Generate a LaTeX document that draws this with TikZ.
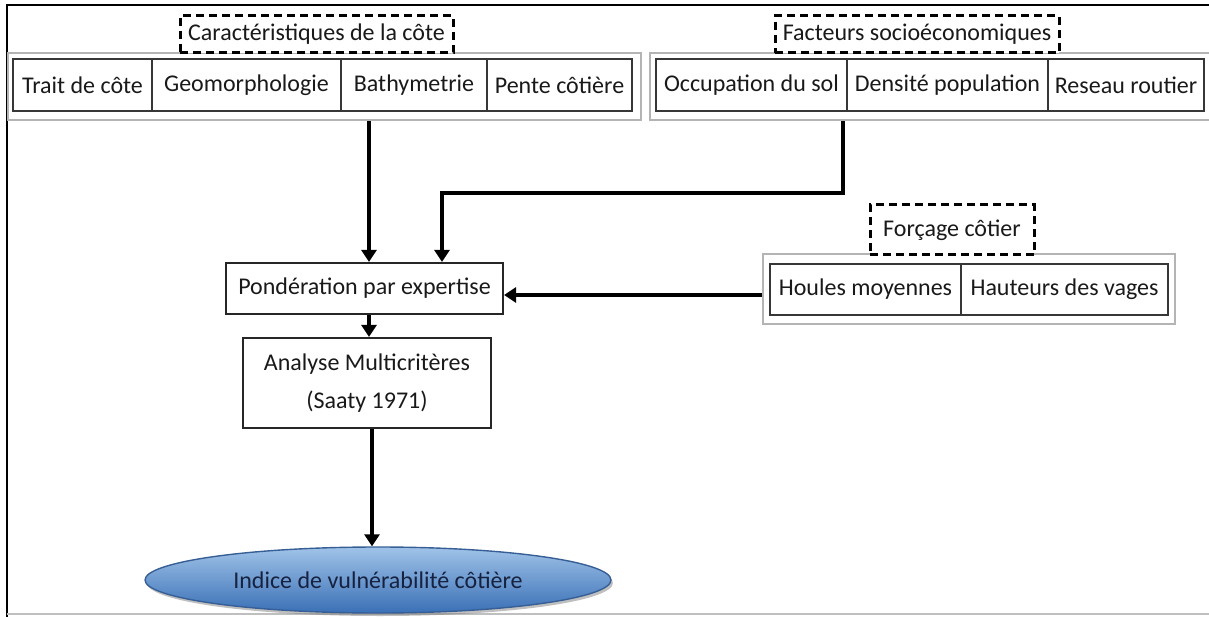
\documentclass[tikz,border=0pt]{standalone}
\usepackage{fontspec}
\setmainfont{Carlito}
\usetikzlibrary{arrows.meta,shapes.geometric,calc,shadows}

\definecolor{cellline}{RGB}{55,55,55}
\definecolor{frameline}{RGB}{180,180,180}
\definecolor{ovaltop}{RGB}{160,195,232}
\definecolor{ovalbot}{RGB}{58,112,182}
\definecolor{ovalline}{RGB}{55,95,150}
\definecolor{ovaltext}{RGB}{22,34,64}
\definecolor{inkgray}{RGB}{25,25,25}

\tikzset{
  txt/.style={font=\fontsize{24}{28}\selectfont, text=inkgray},
  cell/.style={txt, draw=cellline, line width=1.5, inner sep=0, align=center},
  group/.style={draw=frameline, line width=1.8, inner sep=0},
  title/.style={txt, draw=black, dashed, dash pattern=on 8pt off 5pt, line width=3, fill=white, inner sep=0},
  stepbox/.style={txt, draw=black!85, line width=2.2, inner sep=0, align=center},
  conn/.style={line width=4, black},
  arr/.style={conn, -{Triangle[width=15pt,length=12pt]}},
}

\begin{document}
\begin{tikzpicture}[x=1pt,y=-1pt]
\useasboundingbox (0,0) rectangle (1209,617);
\clip (0,0) rectangle (1209,617);

% page frame
\draw[line width=2.6] (7,617) -- (7,5) -- (1210,5);
\draw[line width=2, black!25] (7,614) -- (1210,614);

% coast characteristics
\node[group, minimum width=633, minimum height=67] (cote) at (324.5,86.5) {};
\node[cell, minimum width=139, minimum height=52] (trait) at (82.5,85) {Trait de côte};
\node[cell, minimum width=189, minimum height=52] (geo) at (246.5,85) {Geomorphologie};
\node[cell, minimum width=146, minimum height=52] (bathy) at (414,85) {Bathymetrie};
\node[cell, minimum width=145, minimum height=52] (pente) at (559.5,85) {Pente côtière};
\node[title, minimum width=273, minimum height=37] (tcote) at (316.5,34.5) {Caractéristiques de la côte};

% socio-economic factors
\node[group, minimum width=565, minimum height=67] (socio) at (932.5,86.5) {};
\node[cell, minimum width=191, minimum height=52] (occ) at (751.5,85) {Occupation du sol};
\node[cell, minimum width=201, minimum height=52] (dens) at (947.5,85) {Densité population};
\node[cell, minimum width=156, minimum height=52] (route) at (1126,85) {Reseau routier};
\node[title, minimum width=284, minimum height=37] (tsocio) at (917,34.5) {Facteurs socioéconomiques};

% coastal forcing
\node[group, minimum width=412, minimum height=70] (forc) at (969,289) {};
\node[cell, minimum width=191, minimum height=51] (houle) at (865.5,289.5) {Houles moyennes};
\node[cell, minimum width=207, minimum height=51] (haut) at (1064.5,289.5) {Hauteurs des vages};
\node[title, minimum width=164, minimum height=50] (tforc) at (952,230) {Forçage côtier};

% processing chain
\node[stepbox, minimum width=277, minimum height=51] (pond) at (364.5,288.5) {Pondération par expertise};
\node[stepbox, minimum width=248, minimum height=90, font=\fontsize{24}{38}\selectfont] (amc) at (367,383) {Analyse Multicritères\\(Saaty 1971)};
\node[ellipse, minimum width=466, minimum height=66, inner sep=0, line width=1.4,
      draw=ovalline, top color=ovaltop, bottom color=ovalbot,
      drop shadow={opacity=0.5, shadow xshift=2pt, shadow yshift=-3pt},
      txt, text=ovaltext] (ivc) at (378,580) {Indice de vulnérabilité côtière};

% connector columns
\coordinate (xa) at (369,0);
\coordinate (xb) at (442,0);
\coordinate (xc) at (843,0);
\coordinate (xd) at (372,0);
\coordinate (yb) at (0,193);
\coordinate (yh) at (0,295);

% connectors
\draw[arr] (cote.south -| xa) -- (pond.north -| xa);
\draw[arr] (socio.south -| xc) -- (xc |- yb) -- (xb |- yb) -- (pond.north -| xb);
\draw[arr] (forc.west |- yh) -- (pond.east |- yh);
\draw[arr] (pond.south -| xa) -- (amc.north -| xa);
\draw[arr] (amc.south -| xd) -- (ivc.north -| xd);
\end{tikzpicture}
\end{document}
